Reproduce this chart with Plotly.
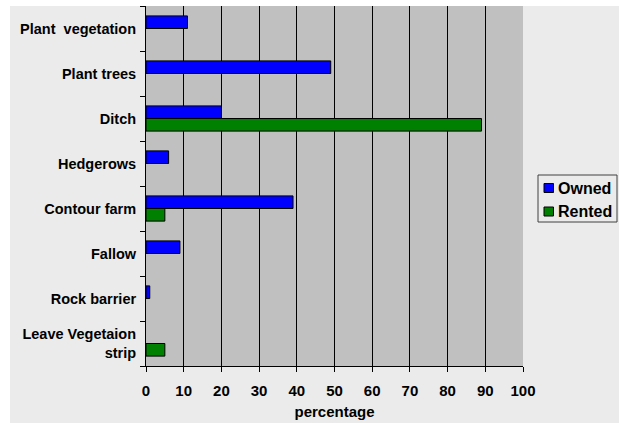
import plotly.graph_objects as go

categories = ["Plant\u00a0 vegetation", "Plant trees", "Ditch", "Hedgerows",
              "Contour farm", "Fallow", "Rock barrier", "Leave Vegetaion<br>strip"]
owned = [11, 49, 20, 6, 39, 9, 1, None]
rented = [None, None, 89, None, 5, None, None, 5]
x_ticks = [0, 10, 20, 30, 40, 50, 60, 70, 80, 90, 100]
series_names = ["Owned", "Rented"]
series_colors = ["#0000ff", "#008000"]

FONT = "Liberation Sans, Arial, sans-serif"

L, R, T, B = 146, 96, 6, 57
W, H = 619, 423
pw, ph = W - L - R, H - T - B


def px_x(px):
    return (px - L) / pw


def px_y(py):
    return (H - B - py) / ph


fig = go.Figure()
for name, vals, col in zip(series_names, [owned, rented], series_colors):
    fig.add_trace(go.Bar(y=categories, x=vals, name=name, orientation="h",
                         showlegend=False,
                         marker=dict(color=col, line=dict(color="#000000", width=1))))

shapes = [
    dict(type="rect", xref="paper", yref="paper",
         x0=px_x(10), x1=px_x(W), y0=px_y(H), y1=1,
         fillcolor="#ebebeb", line=dict(width=0), layer="below"),
    dict(type="rect", xref="paper", yref="paper",
         x0=0, x1=1, y0=0, y1=1,
         fillcolor="#c0c0c0", line=dict(width=0), layer="below"),
    # legend box
    dict(type="rect", xref="paper", yref="paper",
         x0=px_x(538), x1=px_x(617), y0=px_y(222), y1=px_y(175),
         fillcolor="#ebebeb", line=dict(color="#404040", width=1), layer="above"),
]
annotations = []
for i, (name, col) in enumerate(zip(series_names, series_colors)):
    cy = 188 + i * 23.5
    shapes.append(dict(type="rect", xref="paper", yref="paper",
                       x0=px_x(544), x1=px_x(553.5), y0=px_y(cy + 4.5), y1=px_y(cy - 4.5),
                       fillcolor=col, line=dict(color="#000000", width=1), layer="above"))
    annotations.append(dict(xref="paper", yref="paper", x=px_x(556), y=px_y(cy),
                            xanchor="left", yanchor="middle", showarrow=False,
                            text=f"<b>{name}</b>",
                            font=dict(family=FONT, size=16, color="#000000")))

fig.update_layout(
    width=W, height=H,
    margin=dict(l=L, r=R, t=T, b=B, autoexpand=False),
    paper_bgcolor="#ffffff",
    plot_bgcolor="rgba(0,0,0,0)",
    barmode="group",
    bargap=0.44,
    bargroupgap=0,
    font=dict(family=FONT, color="#000000"),
    shapes=shapes,
    annotations=annotations,
    showlegend=False,
    xaxis=dict(
        range=[0, 100], tickvals=x_ticks, ticktext=[f"<b>{v}</b>" for v in x_ticks],
        automargin=False,
        showgrid=True, gridcolor="#000000", gridwidth=1,
        zeroline=False, showline=True, linecolor="#000000", linewidth=1,
        ticks="outside", ticklen=5, tickcolor="#000000",
        tickfont=dict(family=FONT, size=15),
        ticklabelstandoff=6,
        title=dict(text="<b>percentage</b>", font=dict(family=FONT, size=15), standoff=8),
    ),
    yaxis=dict(
        type="category", autorange="reversed",
        automargin=False,
        showgrid=False, zeroline=False,
        showline=True, linecolor="#000000", linewidth=1,
        ticks="outside", ticklen=5, tickcolor="#000000", tickson="boundaries",
        tickfont=dict(family=FONT, size=14.5),
        ticklabelstandoff=6,
        tickvals=categories,
        ticktext=[f"<b>{c.replace('<br>', '</b><br><b>')}</b>" for c in categories],
    ),
)

fig.write_html("out.html", config={"displayModeBar": False},
               post_script="document.body.style.margin='0';")
